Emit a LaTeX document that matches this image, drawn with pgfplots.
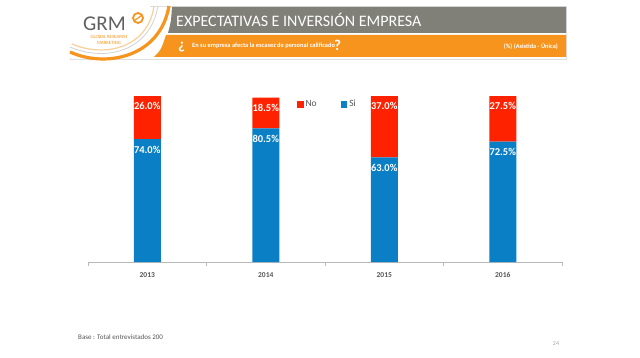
\documentclass[border=0pt]{standalone}
\usepackage{pgfplots}
\usepackage{pgfplotstable}
\pgfplotsset{compat=1.18}
\usepackage{fontspec}
\setmainfont{Carlito}
\definecolor{cNo}{HTML}{FF2200}
\definecolor{cSi}{HTML}{0A7FC6}
\definecolor{cOr}{HTML}{F7941D}
\definecolor{cGr}{HTML}{808079}
\definecolor{cTx}{HTML}{555555}
\pgfplotstableread{
x si no
0 74.0 26.0
1 80.5 18.5
2 63.0 37.0
3 72.5 27.5
}\datatable
\begin{document}
\begin{tikzpicture}
\path[use as bounding box, fill=white] (0,0) rectangle (640pt,357pt);
% header
\begin{scope}[shift={(0,357pt)}, x=1pt, y=-1pt]
  \draw[gray!25, line width=0.6pt] (70,6) rectangle (566,59);
  \fill[cGr] (172,7) -- (566,7) -- (566,33) -- (168,33) .. controls (171,22) .. (172,7) -- cycle;
  \fill[cOr] (166,35) -- (566,35) -- (566,57) -- (154,57) .. controls (161,50) .. (166,35) -- cycle;
  \fill[white] (70,6) rectangle (150,58);
  \draw[gray!35, line width=0.8pt] (70,47) .. controls (105,62) and (150,52) .. (158,6);
  \draw[cOr, line width=3.2pt] (70,52) .. controls (105,68) and (160,58) .. (169,6);
  \draw[cOr!45, line width=1.2pt] (72,44) .. controls (105,58) and (148,48) .. (154,6);
  \node[anchor=west, text=gray!75!black, font=\fontsize{21}{21}\selectfont, inner sep=0] at (83,24) {GRM};
  \draw[cOr, line width=1.8pt] (138,18) circle (5);
  \draw[cOr, line width=1.2pt] (134.5,20.5) -- (141.5,15.5);
  \node[text=cOr, font=\fontsize{4.8}{5}\selectfont, inner sep=0] at (109,37) {GLOBAL RESEARCH};
  \node[text=cOr, font=\fontsize{4.8}{5}\selectfont, inner sep=0] at (109,43) {MARKETING};
  \node[anchor=west, text=white, font=\fontsize{16}{16}\selectfont, inner sep=0] at (176,20) {EXPECTATIVAS E INVERSIÓN EMPRESA};
  \node[anchor=west, text=white, font=\fontsize{15}{15}\bfseries, inner sep=0] at (178,47) {¿};
  \node[anchor=west, text=white, font=\fontsize{6.4}{7}\bfseries, inner sep=0] at (192,46) {En su empresa afecta la escasez de personal calificado};
  \node[anchor=west, text=white, font=\fontsize{15}{15}\bfseries, inner sep=0] at (334,45) {?};
  \node[anchor=east, text=white, font=\fontsize{6.3}{7}\bfseries, inner sep=0] at (558,46) {(\%) (Asistida - Única)};
  \node[anchor=west, text=cTx, font=\fontsize{7}{8}\selectfont, inner sep=0] at (78,337) {Base : Total entrevistados 200};
  \node[text=gray!70, font=\fontsize{6}{7}\selectfont, inner sep=0] at (556,344) {24};
\end{scope}
\begin{axis}[
  at={(88pt,95pt)}, anchor=south west,
  width=474pt, height=166pt, scale only axis,
  ybar stacked, bar width=27pt,
  xmin=-0.5, xmax=3.5, ymin=0, ymax=100,
  hide y axis,
  axis x line*=bottom,
  x axis line style={gray!55, line width=0.6pt},
  xtick={0,1,2,3},
  xticklabels={2013,2014,2015,2016},
  minor xtick={-0.5,0.5,1.5,2.5,3.5},
  major tick length=0pt,
  minor tick length=4pt,
  tick align=outside,
  tick style={gray!55, line width=0.6pt},
  xticklabel style={font=\fontsize{7.5}{8}\bfseries, text=cTx, yshift=-7pt},
  nodes near coords={\pgfplotspointmeta\%},
  point meta=explicit symbolic,
  legend style={draw=none, fill=none, at={(0.434,1.0)}, anchor=north west, font=\fontsize{9.5}{10}\selectfont, text=cTx, legend columns=2, /tikz/every even column/.append style={column sep=22pt}},
  reverse legend,
  legend image code/.code={\fill[#1] (0pt,-3.3pt) rectangle (6.6pt,3.3pt);},
]
\addplot[fill=cSi, draw=none,
  visualization depends on={\thisrow{si} \as \rawy},
  every node near coord/.append style={anchor=north, yshift={\rawy*0.83pt-5.5pt}, text=white, font=\fontsize{10.5}{11}\bfseries, inner sep=1pt}]
  table[x=x, y=si, meta=si] {\datatable};
\addplot[fill=cNo, draw=none,
  visualization depends on={\thisrow{no} \as \rawy},
  every node near coord/.append style={anchor=north, yshift={\rawy*0.83pt-5.5pt}, text=white, font=\fontsize{10.5}{11}\bfseries, inner sep=1pt}]
  table[x=x, y=no, meta=no] {\datatable};
\legend{Si,No}
\end{axis}
\end{tikzpicture}
\end{document}
